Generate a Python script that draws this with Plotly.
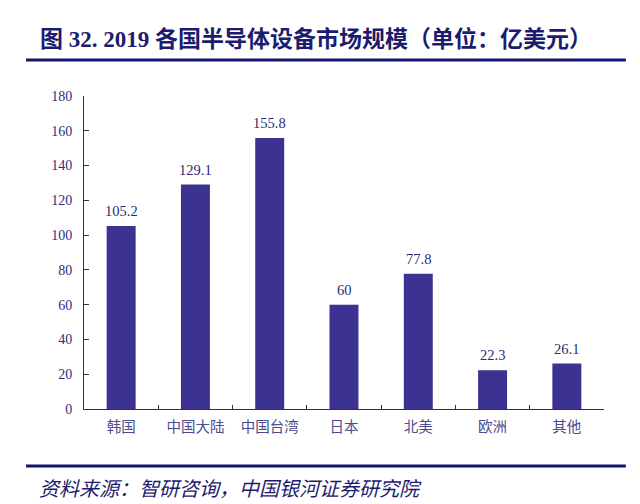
"""2019 semiconductor equipment market size by region."""

import plotly.graph_objects as go

# data
regions = ["韩国", "中国大陆", "中国台湾", "日本", "北美", "欧洲", "其他"]
market_size = [105.2, 129.1, 155.8, 60, 77.8, 22.3, 26.1]
y_ticks = [0, 20, 40, 60, 80, 100, 120, 140, 160, 180]

title_text = "图 32. 2019 各国半导体设备市场规模（单位：亿美元）"
source_text = "资料来源：智研咨询，中国银河证券研究院"

NAVY = "#1c1c6e"
BAR = "#3b3291"
SERIF = "Liberation Serif, Times New Roman, serif"
CJK = "Noto Sans CJK SC"

fig = go.Figure()

fig.add_trace(
    go.Bar(
        x=regions,
        y=market_size,
        marker=dict(color=BAR, line=dict(width=0)),
        showlegend=False,
        hoverinfo="x+y",
    )
)

# value labels sit a bit higher above the bars than plotly's "outside" text
for name, v in zip(regions, market_size):
    fig.add_annotation(
        x=name, y=v, yshift=15, showarrow=False,
        text=f"{v:g}",
        font=dict(family=SERIF, size=14.5, color="#2a2a78"),
    )

fig.update_xaxes(
    showline=True,
    linecolor="#333333",
    linewidth=1,
    ticks="inside",
    tickson="boundaries",
    ticklen=4,
    tickcolor="#333333",
    tickfont=dict(family=CJK, size=14.5, color="#4a4a8c"),
    ticklabelstandoff=5,
    showgrid=False,
)

fig.update_yaxes(
    range=[0, 180],
    tickvals=y_ticks,
    showline=True,
    linecolor="#333333",
    linewidth=1,
    ticks="inside",
    ticklen=5,
    tickcolor="#333333",
    tickfont=dict(family=SERIF, size=14, color="#2f2f80"),
    ticklabelstandoff=8,
    showgrid=False,
    zeroline=False,
)

# header / footer decoration, placed in paper coords around the plot area
fig.add_annotation(
    x=-0.088, y=1.182, xref="paper", yref="paper",
    xanchor="left", yanchor="middle", showarrow=False,
    text=f"<b>{title_text}</b>",
    font=dict(family=SERIF + ", " + CJK, size=23, color=NAVY),
)
fig.add_annotation(
    x=-0.09, y=-0.252, xref="paper", yref="paper",
    xanchor="left", yanchor="middle", showarrow=False,
    text=source_text,
    font=dict(family=CJK, size=20, color=NAVY, style="italic"),
)
for y in (1.115, -0.182):
    fig.add_shape(
        type="line", xref="paper", yref="paper",
        x0=-0.1115, x1=1.042, y0=y, y1=y,
        line=dict(color="#14146e", width=3),
    )

fig.update_layout(
    width=640,
    height=504,
    margin=dict(l=76, r=44, t=88, b=103),
    bargap=0.61,
    plot_bgcolor="white",
    paper_bgcolor="white",
)

fig.write_html("out.html")
